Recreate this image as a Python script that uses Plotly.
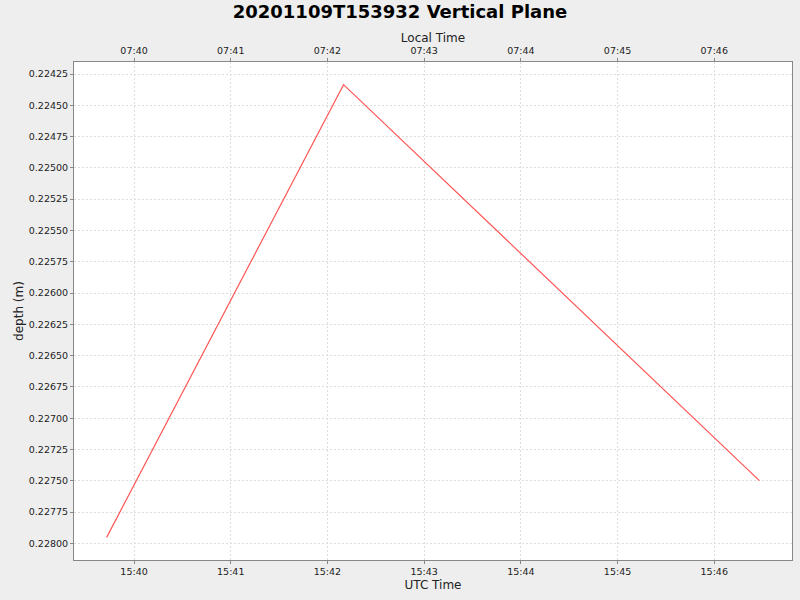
import pandas as pd
import plotly.graph_objects as go

# Data
utc_times = ["2020-11-09 15:39:43", "2020-11-09 15:42:10", "2020-11-09 15:46:28"]
depths = [0.227952, 0.224335, 0.227499]
utc_offset_hours = -8

utc = pd.to_datetime(utc_times)
local = utc + pd.Timedelta(hours=utc_offset_hours)

# JFreeChart style 5% margins around the data
span = utc.max() - utc.min()
x_range = [utc.min() - span * 0.05, utc.max() + span * 0.05]
local_range = [t + pd.Timedelta(hours=utc_offset_hours) for t in x_range]
dspan = max(depths) - min(depths)
y_range = [max(depths) + dspan * 0.05, min(depths) - dspan * 0.05]

tick_font = dict(family="DejaVu Sans", size=9.5, color="#222222")
title_font = dict(family="DejaVu Sans", size=12, color="#222222")
grid_color = "#DDDDDD"
axis_color = "#888888"

fig = go.Figure()
fig.add_trace(go.Scatter(x=utc, y=depths, mode="lines",
                         line=dict(color="#FF5555", width=1.2), showlegend=False))
# invisible trace so the local time axis is drawn
fig.add_trace(go.Scatter(x=local, y=depths, mode="lines", xaxis="x2",
                         line=dict(color="rgba(0,0,0,0)"), showlegend=False,
                         hoverinfo="skip"))

fig.update_layout(
    width=800, height=600,
    paper_bgcolor="#EEEEEE", plot_bgcolor="white",
    margin=dict(l=74, r=8, t=62, b=40),
    title=dict(text="<b>20201109T153932 Vertical Plane</b>", x=0.5, xanchor="center",
               y=0.98, yanchor="middle",
               font=dict(family="DejaVu Sans", size=18, color="black")),
    xaxis=dict(type="date", range=x_range, tickformat="%H:%M", dtick=60000,
               title=dict(text="UTC Time", font=title_font, standoff=4),
               tickfont=tick_font, showgrid=True, gridcolor=grid_color, griddash="2px,2px",
               showline=True, linecolor=axis_color, ticks="outside", ticklen=3,
               tickcolor=axis_color, zeroline=False, automargin=False),
    xaxis2=dict(type="date", range=local_range, overlaying="x", side="top",
                tickformat="%H:%M", dtick=60000,
                title=dict(text="Local Time", font=title_font, standoff=0),
                tickfont=tick_font, showgrid=False, showline=True, linecolor=axis_color,
                ticks="outside", ticklen=3, tickcolor=axis_color, zeroline=False,
                automargin=False),
    yaxis=dict(range=y_range, dtick=0.00025, tick0=0.22425, tickformat=".5f",
               title=dict(text="depth (m)", font=title_font, standoff=2),
               tickfont=tick_font, showgrid=True, gridcolor=grid_color, griddash="2px,2px",
               showline=True, linecolor=axis_color, mirror=True, ticks="outside",
               ticklen=3, tickcolor=axis_color, zeroline=False, automargin=False),
)

# drop the browser's default page margin so the figure sits at the window corner
fig.write_html("out.html", config={"displayModeBar": False},
               post_script="document.body.style.margin='0px';")
